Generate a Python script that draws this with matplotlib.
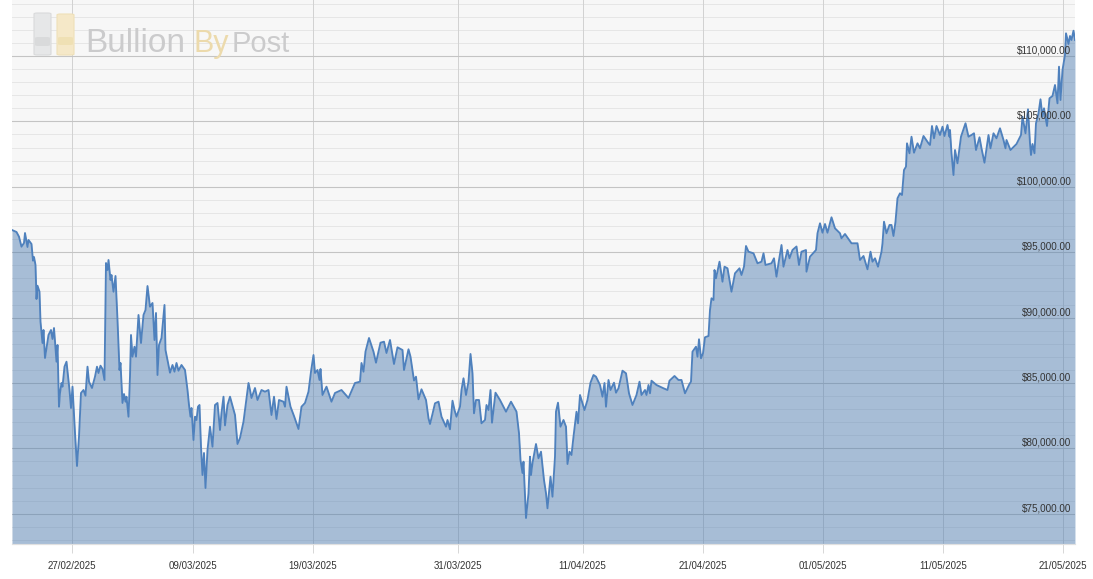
import matplotlib
matplotlib.use("Agg")
import matplotlib.pyplot as plt
from matplotlib.patches import FancyBboxPatch

hours = [0,9,14,19,24,26,31,33,39,42,44,47,49,51,55,57,61,63,66,69,73,78,81,84,89,91,94,96,99,101,105,109,115,118,121,126,130,134,138,143,147,151,154,160,166,170,173,177,181,185,188,191,193,197,199,203,207,211,215,217,221,224,227,229,233,236,238,241,245,248,253,258,263,267,271,276,281,285,288,291,294,299,301,305,307,311,316,321,325,329,333,339,346,351,354,357,359,363,366,369,372,375,378,381,384,387,391,396,401,406,411,416,419,423,426,431,436,446,451,456,463,473,476,479,486,491,499,506,513,519,524,529,534,543,546,549,557,564,568,573,579,586,593,598,603,606,611,615,617,621,629,639,646,659,673,686,696,699,703,707,714,723,728,737,744,749,756,764,771,781,784,793,797,804,808,813,819,828,833,836,841,846,853,859,868,871,876,881,885,889,896,899,903,908,913,917,921,924,928,934,939,946,949,953,957,960,967,976,988,998,1009,1014,1017,1021,1023,1028,1033,1036,1038,1041,1048,1053,1058,1064,1068,1071,1077,1081,1086,1088,1092,1097,1103,1108,1111,1115,1119,1123,1129,1132,1136,1145,1151,1157,1163,1168,1176,1181,1185,1188,1193,1197,1204,1208,1213,1221,1228,1234,1241,1249,1255,1259,1266,1269,1273,1276,1279,1289,1303,1311,1315,1325,1333,1339,1346,1355,1358,1361,1368,1371,1374,1378,1382,1386,1393,1396,1399,1403,1405,1408,1415,1417,1421,1425,1431,1439,1446,1455,1459,1464,1468,1473,1483,1491,1499,1503,1507,1519,1524,1529,1533,1539,1543,1551,1555,1561,1569,1574,1579,1588,1589,1596,1603,1608,1611,1616,1621,1626,1631,1639,1646,1656,1659,1666,1679,1691,1696,1703,1711,1717,1721,1726,1732,1739,1741,1744,1749,1755,1759,1763,1767,1771,1776,1780,1784,1788,1790,1795,1799,1804,1811,1816,1823,1833,1836,1840,1844,1849,1856,1861,1865,1871,1875,1876,1879,1883,1886,1891,1898,1907,1913,1919,1924,1928,1935,1939,1945,1953,1957,1963,1969,1976,1983,1987,1989,1997,2009,2018,2021,2027,2032,2036,2038,2041,2045,2048,2053,2057,2061,2064,2070,2075,2081,2086,2091,2094,2097,2101,2106,2108,2113,2116,2119,2123,2126]

prices = [96697,96545,96185,95421,95704,96468,95398,95933,95627,94351,94633,94022,91422,92439,91980,89688,88059,89052,86912,87676,88670,89052,88364,89205,86629,87906,83189,84236,85001,84718,86247,86629,84465,83089,84718,81178,78655,80895,84236,84465,84030,86247,85100,84618,85482,86247,85765,86323,86071,85230,94175,93639,94404,92875,93257,91980,93181,89817,85994,86530,83472,84160,83571,83953,82424,85482,88670,87011,87776,87011,90199,88059,90199,90581,92416,90834,91117,88288,90352,85612,87906,88441,89305,90964,87523,86759,85788,86377,85865,86530,85941,86377,85994,84465,83319,82424,83089,80643,82424,82172,83189,83319,80131,77967,79649,76973,79878,81660,80131,83319,83472,81407,82707,83953,81760,83319,83953,82554,80337,80796,82042,85001,84465,83854,84618,83701,84465,84336,84465,82554,83953,82248,83701,83571,83189,84718,83189,82478,82042,81484,83189,83472,84336,85865,87141,85765,85994,85230,86071,84083,84718,83571,84236,84465,83854,85001,85100,86530,85865,87394,88441,87394,86553,88082,88158,87294,88288,86453,87730,87523,85994,87577,87011,85191,85482,83755,84519,83701,82302,81866,82631,83449,83571,82424,81660,82172,81461,83647,82936,82424,83189,84465,85360,84083,85100,87218,85742,82684,83701,83701,81920,82172,83319,82936,84465,81966,84259,83701,82807,83571,82807,81155,79114,78120,78984,74680,76568,79366,77967,78885,80337,79244,79749,77585,76568,75421,77837,76309,79366,82807,83495,81660,82172,81660,78808,79749,79496,80895,82807,81920,84083,82936,83701,85024,85612,85482,84848,83953,85001,83189,85230,84465,85024,84259,84596,85941,85742,84213,83319,84083,85100,84083,84465,84083,84848,84213,85176,84848,84596,84465,85176,85536,85230,85230,84213,84924,85100,87394,87776,87011,88342,86889,87271,88494,88594,90581,91476,91346,93639,93005,94274,93769,92745,93892,93769,91980,93387,93769,93257,93892,95474,95039,94916,94152,94274,94916,94022,94152,94534,93127,94152,95551,93892,95168,94534,95168,95436,94022,95039,95168,93510,94656,94962,95168,96445,97210,96491,97156,96491,97668,96827,96445,96063,96392,95681,95681,94404,94710,93693,95039,94274,94534,93892,95039,95681,97332,96445,97080,97080,96239,97332,99121,99503,99373,101284,101537,103325,102561,103830,102607,103325,102943,103884,103325,103196,104648,103708,104648,103960,104595,103884,104725,103830,104342,102561,100902,102813,101797,103830,104855,103830,103960,104090,102813,103784,102943,101843,103960,102943,104090,103708,104473,103578,102943,103578,102813,103272,103960,105359,104090,105925,103325,102431,103272,102561,104855,105619,106690,105359,106001,104648,106766,106942,107783,106384,109182,106636,108929,110076,111735,110917,111529,111223,111934,111223]

tick_hours = [120,362,602,891,1141,1382,1622,1862,2102]
tick_labels = ["27/02/2025","09/03/2025","19/03/2025","31/03/2025","11/04/2025","21/04/2025","01/05/2025","11/05/2025","21/05/2025"]
major_levels = [75000,80000,85000,90000,95000,100000,105000,110000]
minor_levels = [v for v in range(73000,115000,1000) if v % 5000]
logo_words = ["Bullion","By","Post"]

W, H = 1093, 579
plt.rcParams['font.family'] = ['Liberation Sans', 'DejaVu Sans']
fig = plt.figure(figsize=(W/100, H/100), dpi=100, facecolor='white')
ax = fig.add_axes([12/W, (H-544)/H, (1075-12)/W, 544/H])
ax.set_facecolor('#f7f7f7')
ax.set_xlim(0, 2126)
ax.set_ylim(72692, 114281)

PX = 0.72
for v in minor_levels:
    ax.axhline(v, color='#e6e6e6', lw=1.0*PX, zorder=1)
for v in major_levels:
    ax.axhline(v, color='#c4c4c4', lw=1.1*PX, zorder=1.2)
for h in tick_hours:
    ax.axvline(h, color='#d2d2d2', lw=1.0*PX, zorder=1.1)

ax.fill_between(hours, prices, 72692, color='#4a7ab0', alpha=0.46, lw=0, zorder=2)
ax.plot(hours, prices, color='#4f81bd', lw=1.35, solid_joinstyle='round', zorder=3)

ax.set_xticks(tick_hours, tick_labels)
ax.set_yticks([])
ax.tick_params(axis='x', length=9*PX, width=1.0*PX, color='#d8d8d8', pad=8*PX,
               labelsize=7, labelcolor='#333333')
for s in ['top', 'left', 'right']:
    ax.spines[s].set_visible(False)
ax.spines['bottom'].set_color('#e0e0e0')
ax.spines['bottom'].set_linewidth(1.2*PX)

for v in major_levels:
    ax.annotate(f"${v:,.2f}", xy=(1, v), xycoords=ax.get_yaxis_transform(),
                xytext=(-3.5*PX, 5.5*PX), textcoords='offset points', ha='right', va='center',
                fontsize=7.15, color='#333333', zorder=5)

def px_box(x0, y0, x1, y1, fc, ec):
    fig.add_artist(FancyBboxPatch((x0/W, 1-y1/H), (x1-x0)/W, (y1-y0)/H,
                                  boxstyle="round,pad=0,rounding_size=0.003",
                                  transform=fig.transFigure, fc=fc, ec=ec, lw=0.8,
                                  mutation_aspect=H/W, zorder=6))
px_box(34, 13, 51, 55, '#e6e7e8', '#d9dadb')
px_box(35, 37, 50, 46, '#d9dadb', 'none')
px_box(57, 14, 74, 55, '#f5e8c8', '#efe0b8')
px_box(58, 37, 73, 45, '#efe0b4', 'none')

for word, x, col, size in zip(logo_words, [85, 193, 232], ['#cbcbcc', '#ecdaac', '#cbcbcc'], [24, 22, 21]):
    fig.text(x/W, 1-52/H, word, fontsize=size, color=col, ha='left', va='baseline', zorder=7)

fig.savefig('out.png', dpi=100, facecolor='white')
